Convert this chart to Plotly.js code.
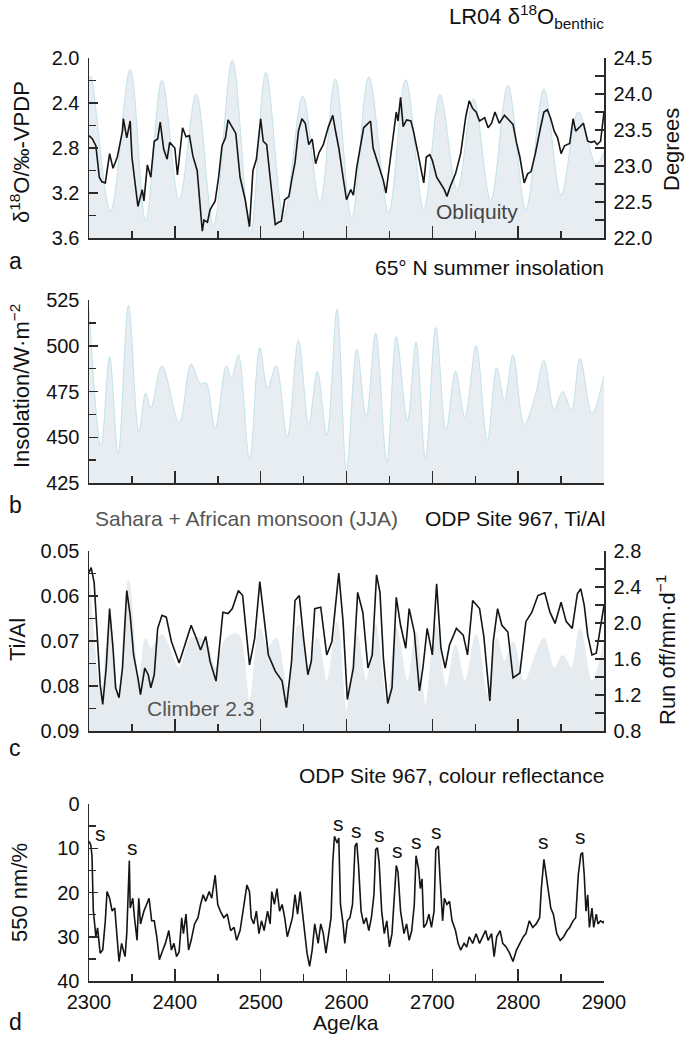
<!DOCTYPE html>
<html><head><meta charset="utf-8">
<script src="https://cdn.plot.ly/plotly-3.0.1.min.js"></script>
<style>html,body{margin:0;padding:0;background:#fff}#chart{width:686px;height:1038px}</style>
</head><body><div id="chart"></div>
<script>
// ---- Panel a: obliquity (degrees) ----
const obliqAge = [2300,2302,2325,2348,2366,2385,2405,2425,2445,2467,2488,2506,2527,2549,2569,2587,2606,2626,2649,2669,2690,2709,2729,2748,2768,2788,2809,2830,2850,2870,2891,2900];
const obliqDeg = [24.2,24.25,22.37,24.34,22.24,24.19,22.53,24.0,22.17,24.47,22.07,24.3,22.3,23.97,22.49,24.21,22.28,24.24,22.36,24.2,22.4,23.99,22.67,23.93,22.52,24.12,22.4,24.07,22.6,23.75,23.02,23.2];
// ---- Panel a: LR04 benthic d18O ----
const d18Age = [2300,2304,2308,2312,2315,2319,2324,2328,2333,2339,2340,2344,2348,2350,2357,2362,2364,2368,2372,2376,2380,2383,2387,2391,2394,2400,2403,2409,2413,2417,2421,2426,2432,2434,2438,2441,2447,2451,2455,2459,2462,2467,2471,2476,2482,2487,2491,2495,2500,2503,2507,2511,2517,2521,2524,2528,2533,2536,2540,2544,2548,2552,2556,2560,2564,2568,2573,2579,2584,2587,2591,2596,2600,2605,2608,2612,2616,2620,2624,2628,2631,2637,2643,2646,2651,2655,2658,2660,2663,2666,2670,2675,2678,2682,2686,2690,2693,2697,2700,2705,2710,2714,2717,2721,2727,2733,2739,2743,2747,2751,2755,2761,2765,2769,2773,2778,2784,2790,2794,2798,2802,2807,2811,2815,2820,2826,2830,2834,2838,2842,2846,2850,2854,2860,2864,2867,2872,2876,2881,2885,2889,2892,2896,2900];
const d18Val = [2.69,2.72,2.78,3.06,3.10,3.11,2.85,2.98,2.88,2.65,2.54,2.71,2.56,2.88,3.32,3.17,3.27,2.95,3.06,2.74,2.72,2.57,2.81,2.90,2.75,2.80,3.04,2.62,2.70,2.69,2.87,3.00,3.54,3.44,3.46,3.35,3.27,3.06,2.78,2.71,2.55,2.62,2.67,3.06,3.26,3.50,3.00,2.90,2.54,2.74,2.77,3.06,3.48,3.46,3.45,3.26,3.23,3.09,2.93,2.65,2.54,2.58,2.77,2.72,2.94,2.84,2.77,2.61,2.51,2.64,2.80,3.06,3.26,3.17,3.22,2.97,2.80,2.62,2.59,2.56,2.80,2.94,3.09,3.20,2.88,2.68,2.48,2.56,2.35,2.61,2.55,2.56,2.65,2.80,2.94,3.11,2.88,2.86,2.91,3.06,3.12,3.17,3.23,3.14,3.03,2.85,2.52,2.38,2.45,2.48,2.56,2.53,2.62,2.58,2.48,2.58,2.51,2.56,2.59,2.75,2.88,3.11,3.03,3.01,2.85,2.62,2.48,2.46,2.54,2.65,2.71,2.85,2.78,2.76,2.54,2.65,2.61,2.58,2.74,2.75,2.74,2.77,2.74,2.48];
// ---- Panel b: 65N summer insolation ----
const insAge = [2300,2314,2324,2334,2346,2358,2366,2372,2385,2405,2419,2430,2436,2447,2460,2466,2474,2487,2499,2508,2518,2531,2544,2556,2566,2577,2589,2600,2612,2623,2634,2647,2658,2671,2681,2692,2704,2716,2727,2738,2751,2764,2775,2784,2794,2807,2820,2830,2842,2852,2862,2872,2886,2900];
const insVal = [520,445,494,441,522,453,474,466,489,458,490,479,480,455,489,482,495,438,499,477,489,450,503,457,486,451,520,432,498,461,507,436,505,459,502,438,510,454,486,461,500,448,488,470,495,457,473,492,465,475,465,493,463,484];
// ---- Panel c: Climber 2.3 run off ----
const runAge = [2300,2314,2324,2334,2346,2358,2366,2372,2385,2405,2419,2436,2447,2460,2474,2487,2499,2508,2518,2531,2544,2556,2566,2577,2589,2600,2612,2623,2634,2647,2658,2671,2681,2692,2704,2716,2727,2738,2751,2764,2775,2784,2794,2807,2820,2830,2842,2852,2862,2872,2886,2900];
const runVal = [2.54,1.2,2.08,1.17,2.47,1.35,1.83,1.72,1.87,1.5,1.83,1.79,1.5,1.83,1.87,1.13,1.94,1.72,1.83,1.28,1.98,1.5,1.83,1.35,2.01,1.02,1.87,1.35,1.98,1.09,1.94,1.35,1.9,1.09,1.98,1.28,1.75,1.35,1.87,1.2,1.83,1.57,1.79,1.35,1.64,1.83,1.5,1.64,1.5,1.94,1.35,1.79];
// ---- Panel c: ODP 967 Ti/Al ----
const tiAge = [2300,2302.5,2306,2310,2313,2316,2320,2324,2328,2331,2335,2339,2344,2348,2352,2357,2360,2365,2369,2372,2376,2380,2385,2390,2396,2405,2413,2419,2425,2430,2436,2441,2448,2456,2462,2467,2474,2479,2487,2493,2499,2504,2509,2517,2525,2530,2536,2540,2545,2550,2555,2559,2563,2570,2577,2583,2591,2596,2601,2608,2613,2619,2625,2630,2635,2639,2643,2648,2653,2658,2663,2669,2673,2679,2685,2689,2694,2700,2705,2710,2715,2720,2728,2736,2741,2747,2755,2760,2767,2771,2776,2781,2788,2794,2802,2809,2816,2823,2831,2837,2843,2850,2856,2863,2869,2873,2877,2881,2886,2891,2896,2900];
const tiVal = [0.0548,0.0537,0.057,0.0687,0.0797,0.0841,0.076,0.0628,0.0716,0.0804,0.0826,0.076,0.0588,0.0643,0.0731,0.0782,0.0819,0.076,0.0775,0.0804,0.0775,0.0672,0.0643,0.0647,0.0701,0.0749,0.0701,0.0665,0.0694,0.072,0.069,0.0745,0.0789,0.0636,0.0639,0.0628,0.0588,0.0599,0.0753,0.0694,0.0568,0.0643,0.0731,0.0767,0.0789,0.0848,0.0745,0.061,0.0599,0.0694,0.0775,0.0745,0.0628,0.0625,0.0731,0.0701,0.0549,0.0657,0.083,0.076,0.0592,0.0636,0.076,0.0731,0.0553,0.0592,0.0738,0.0839,0.0804,0.0603,0.0665,0.0716,0.0628,0.068,0.0811,0.076,0.0672,0.0731,0.0573,0.0716,0.076,0.0709,0.0672,0.0687,0.0731,0.061,0.0628,0.069,0.0833,0.0701,0.0628,0.0665,0.068,0.0782,0.0771,0.0657,0.0636,0.0599,0.0593,0.0636,0.0661,0.0614,0.0657,0.0672,0.0595,0.0584,0.0621,0.0687,0.0731,0.0727,0.0672,0.0621];
// ---- Panel d: ODP 967 colour reflectance 550 nm ----
const refAge = [2300,2302,2303.5,2305,2308,2310,2313,2316,2319,2321,2324,2327,2330,2332,2335,2338,2342,2344,2347,2348,2351,2353,2356,2358,2360,2364,2367,2370,2373,2376,2379,2382,2386,2389,2393,2396,2399,2402,2405,2408,2410,2413,2416,2419,2423,2427,2430,2433,2436,2440,2443,2447,2450,2453,2457,2461,2465,2469,2472,2476,2480,2484,2487,2489,2492,2495,2498,2501,2504,2508,2511,2513,2516,2519,2522,2525,2528,2531,2534,2537,2540,2543,2546,2549,2552,2554,2557,2560,2563,2567,2570,2573,2576,2579,2582,2584,2586,2589,2591,2593,2596,2598,2601,2604,2607,2610,2612,2614,2617,2620,2623,2626,2629,2632,2634,2636,2638,2641,2644,2647,2650,2653,2656,2658,2660,2663,2667,2670,2673,2676,2679,2681,2684,2686,2688,2690,2693,2696,2699,2702,2704,2707,2709,2712,2714,2717,2720,2723,2727,2730,2733,2737,2740,2743,2747,2751,2755,2759,2762,2765,2769,2772,2775,2779,2782,2786,2790,2794,2798,2802,2806,2809,2813,2817,2821,2825,2827,2830,2832,2835,2838,2841,2845,2849,2853,2857,2860,2864,2867,2870,2873,2875,2877,2879,2881,2883,2886,2888,2891,2893,2896,2899,2900];
const refVal = [8.4,9.2,11.7,24,30,28,33.7,33,26.4,19.8,21.3,24.2,23.5,29.3,35.6,31.5,34.5,29.3,12.8,23.5,21.3,25.7,30.8,21.3,27.1,24.2,22.7,21.3,26.4,26.4,30,35.2,33,31.5,28.6,33,31.5,34.5,33.4,25.7,29.3,24.9,33,30.8,27.1,25.7,22.7,20.5,22,19.8,21.3,16.1,22.7,24.2,25.7,24.9,28.6,27.9,30.8,28.6,23.5,18.3,19.8,25.7,27.1,24.2,29.3,26.4,28.6,24.2,27.1,19.8,22.7,19.1,24.2,22.7,25.7,30,27.9,25.7,20.5,24.9,19.8,24.9,30,33.7,36.7,33,27.1,31.5,27.1,29.3,33.7,30,25.7,13.2,7.3,8.8,7.7,22.7,27.1,31.5,26.4,25.7,22.7,9.5,8.8,13.9,24.2,27.1,25.7,28.6,25.7,20.5,10.3,9.9,13.2,24.2,29.3,26.4,32.3,29.3,19.1,13.9,15.4,24.2,29.3,27.1,30.8,28.6,22.7,11.7,14.7,19.1,16.9,27.9,27.1,24.9,27.9,24.2,10.3,9.5,16.9,26.4,21.3,22.7,22,26.4,28.6,31.5,33,31.5,32.3,30,31.5,29.3,31.5,30,28.6,30.8,29.3,34.5,30,28.6,31.5,32.3,33.7,35.6,33,31.5,30,29.3,26.4,27.9,27.1,25.7,19.1,12.5,15.4,19.8,23.5,24.9,29.3,30.8,30,28.6,27.9,26.4,25.7,16.1,11.4,11,16.1,24.2,20.5,27.9,23.5,27.9,24.9,27.1,26.4,26.8,26.4];
// sapropel markers
const sAge = [2313,2351,2591,2612,2639,2659,2682,2705,2830,2873];
const sVal = [6.6,9.9,4.4,6.0,6.8,10.6,8.4,6.2,8.4,7.3];

const W = 686, H = 1038;
const X0 = 89/W, X1 = 604/W;
const fy = px => 1 - px/H;
const fx = px => px/W;
const FONT = 'Liberation Sans, Arial, Helvetica, sans-serif';
const AX = '#2a2a2a';
const FILL = '#e8edf1', EDGE = '#c3e2ea';
const TICKF = {size:20, color:'#111'};

function xax(anchor, labels) {
  return {domain:[X0,X1], anchor:anchor, range:[2300,2900], showgrid:false, zeroline:false,
    showline:true, linecolor:AX, linewidth:1.5, ticks:'inside', ticklen:12, tickwidth:1.5, tickcolor:AX,
    dtick:100, tick0:2300, showticklabels:labels, tickfont:TICKF, ticklabelstandoff:2,
    minor:{dtick:50, ticklen:7, tickwidth:1.5, tickcolor:AX, ticks:'inside'}};
}
function yax(o) {
  return Object.assign({showgrid:false, zeroline:false, showline:true, linecolor:AX, linewidth:1.5,
    ticks:'inside', ticklen:9, tickwidth:1.5, tickcolor:AX, tickfont:TICKF,
    ticklabelstandoff:4}, o);
}
function txt(text, x, y, o) {
  return Object.assign({text:text, xref:'paper', yref:'paper', x:fx(x), y:fy(y), xanchor:'center', yanchor:'middle', showarrow:false, font:{size:21, color:'#111'}}, o||{});
}

const traces = [
  {x:obliqAge, y:obliqDeg, xaxis:'x', yaxis:'y', type:'scatter', mode:'lines', line:{shape:'spline', color:EDGE, width:1, smoothing:1.0}, fill:'tozeroy', fillcolor:FILL, hoverinfo:'skip'},
  {x:d18Age, y:d18Val, xaxis:'x', yaxis:'y2', type:'scatter', mode:'lines', line:{color:'#151515', width:1.6}},
  {x:insAge, y:insVal, xaxis:'x2', yaxis:'y3', type:'scatter', mode:'lines', line:{shape:'spline', color:EDGE, width:1, smoothing:1.0}, fill:'tozeroy', fillcolor:FILL},
  {x:runAge, y:runVal, xaxis:'x3', yaxis:'y4', type:'scatter', mode:'lines', line:{shape:'spline', color:'#e6ebef', width:1, smoothing:1.0}, fill:'tozeroy', fillcolor:'#e6ebef'},
  {x:tiAge, y:tiVal, xaxis:'x3', yaxis:'y5', type:'scatter', mode:'lines', line:{color:'#151515', width:1.6}},
  {x:refAge, y:refVal, xaxis:'x4', yaxis:'y6', type:'scatter', mode:'lines', line:{color:'#151515', width:1.6}}
];

const sNotes = sAge.map((a, i) => ({text:'s', xref:'x4', yref:'y6', x:a, y:sVal[i], xanchor:'center', yanchor:'middle', showarrow:false, font:{size:21, color:'#111'}}));

const layout = {
  width:W, height:H, margin:{l:0,r:0,t:0,b:0}, showlegend:false, paper_bgcolor:'#fff', plot_bgcolor:'rgba(0,0,0,0)',
  font:{family:FONT, color:'#111', size:20},
  xaxis: xax('y', false),
  xaxis2: xax('y3', false),
  xaxis3: xax('y4', false),
  xaxis4: xax('y6', true),
  yaxis: yax({domain:[fy(238), fy(58)], anchor:'x', side:'right', range:[22,24.5], dtick:0.5, tick0:22, tickformat:'.1f',
    minor:{dtick:0.25, ticklen:9, tickwidth:1.5, tickcolor:AX, ticks:'inside'}}),
  yaxis2: yax({overlaying:'y', anchor:'x', side:'left', range:[3.6,2.0], dtick:0.4, tick0:2.0, tickformat:'.1f',
    minor:{dtick:0.2, ticklen:7, tickwidth:1.5, tickcolor:AX, ticks:'inside'}}),
  yaxis3: yax({domain:[fy(483), fy(300)], anchor:'x2', side:'left', range:[425,525], dtick:25, tick0:425,
    minor:{dtick:12.5, ticklen:7, tickwidth:1.5, tickcolor:AX, ticks:'inside'}}),
  yaxis4: yax({domain:[fy(731), fy(551)], anchor:'x3', side:'right', range:[0.8,2.8], dtick:0.4, tick0:0.8, tickformat:'.1f',
    minor:{dtick:0.2, ticklen:9, tickwidth:1.5, tickcolor:AX, ticks:'inside'}}),
  yaxis5: yax({overlaying:'y4', anchor:'x3', side:'left', range:[0.09,0.05], dtick:0.01, tick0:0.05, tickformat:'.2f',
    minor:{dtick:0.005, ticklen:7, tickwidth:1.5, tickcolor:AX, ticks:'inside'}}),
  yaxis6: yax({domain:[fy(981), fy(804)], anchor:'x4', side:'left', range:[40,0], dtick:10, tick0:0,
    minor:{dtick:5, ticklen:7, tickwidth:1.5, tickcolor:AX, ticks:'inside'}}),
  annotations: [
    txt('LR04 δ<sup>18</sup>O<sub>benthic</sub>', 606, 16, {xanchor:'right', font:{size:22, color:'#111'}}),
    txt('δ<sup>18</sup>O/‰-VPDP', 20, 152, {textangle:-90, font:{size:22, color:'#111'}}),
    txt('Degrees', 672, 150, {textangle:-90, font:{size:22, color:'#111'}}),
    txt('Obliquity', 477, 212, {font:{size:21, color:'#444'}}),
    txt('a', 15, 261, {font:{size:23, color:'#111'}}),
    txt('65° N summer insolation', 606, 267, {xanchor:'right'}),
    txt('Insolation/W·m<sup>−2</sup>', 20, 386, {textangle:-90, font:{size:22, color:'#111'}}),
    txt('b', 15, 505, {font:{size:23, color:'#111'}}),
    txt('Sahara + African monsoon (JJA)', 93, 518, {xanchor:'left', font:{size:21, color:'#555'}}),
    txt('ODP Site 967, Ti/Al', 608, 518, {xanchor:'right'}),
    txt('Ti/Al', 17, 640, {textangle:-90, font:{size:22, color:'#111'}}),
    txt('Run off/mm·d<sup>−1</sup>', 666, 650, {textangle:-90, font:{size:22, color:'#111'}}),
    txt('Climber 2.3', 200, 708, {font:{size:21, color:'#555'}}),
    txt('c', 15, 748, {font:{size:23, color:'#111'}}),
    txt('ODP Site 967, colour reflectance', 606, 775, {xanchor:'right'}),
    txt('550 nm/%', 19, 893, {textangle:-90, font:{size:22, color:'#111'}}),
    txt('Age/ka', 346, 1022, {font:{size:21, color:'#111'}}),
    txt('d', 15, 1022, {font:{size:23, color:'#111'}})
  ].concat(sNotes)
};

Plotly.newPlot('chart', traces, layout, {staticPlot:true, displayModeBar:false});
</script></body></html>
